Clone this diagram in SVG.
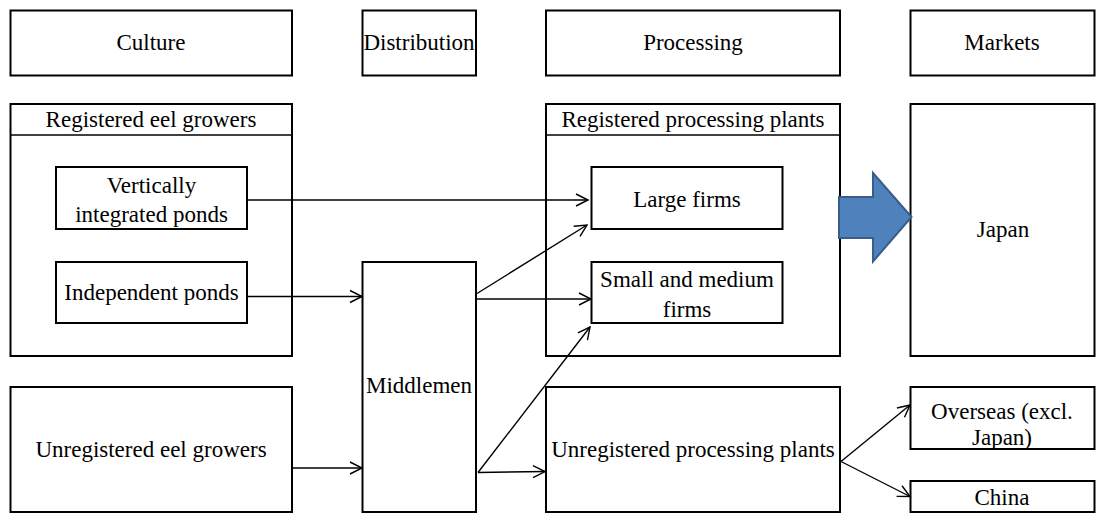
<svg xmlns="http://www.w3.org/2000/svg" width="1096" height="514" viewBox="0 0 1096 514">
<style>
.box{fill:#fff;stroke:#000;stroke-width:2}
.t{font-family:'Liberation Serif','Tinos','Times New Roman','DejaVu Serif','Noto Serif',serif;font-size:23px;fill:#000;text-anchor:middle}
.c{fill:none;stroke:#000;stroke-width:1.4}
</style>
<defs>
<marker id="ah" markerUnits="userSpaceOnUse" markerWidth="16" markerHeight="16" refX="13" refY="7" orient="auto" viewBox="0 0 16 14">
<path d="M1,1 L13,7 L1,13" fill="none" stroke="#000" stroke-width="1.4"/>
</marker>
</defs>
<rect width="1096" height="514" fill="#fff"/>
<g id="culture"><rect class="box" x="10.5" y="10.5" width="281.5" height="65"/><text class="t" x="151" y="50">Culture</text></g>
<g id="distribution"><rect class="box" x="362.5" y="10.5" width="113.5" height="65"/><text class="t" x="419" y="50">Distribution</text></g>
<g id="processing"><rect class="box" x="546" y="10.5" width="294" height="65"/><text class="t" x="693" y="50">Processing</text></g>
<g id="markets"><rect class="box" x="910.5" y="10.5" width="184" height="65"/><text class="t" x="1002" y="50">Markets</text></g>

<g id="registered-growers"><rect class="box" x="10.5" y="104" width="281.5" height="252"/><line x1="10.5" y1="135" x2="292" y2="135" stroke="#000" stroke-width="1.5"/><text class="t" x="151" y="127">Registered eel growers</text></g>
<g id="vertical-ponds"><rect class="box" x="56" y="167" width="191" height="62"/><text class="t" x="151.5" y="193">Vertically</text><text class="t" x="151.5" y="222">integrated ponds</text></g>
<g id="independent-ponds"><rect class="box" x="56" y="262" width="191" height="61"/><text class="t" x="151.5" y="300">Independent ponds</text></g>

<g id="registered-plants"><rect class="box" x="546" y="104" width="294" height="252"/><line x1="546" y1="135" x2="840" y2="135" stroke="#000" stroke-width="1.5"/><text class="t" x="693" y="127">Registered processing plants</text></g>
<g id="large-firms"><rect class="box" x="591.5" y="167" width="191" height="62"/><text class="t" x="687" y="207">Large firms</text></g>
<g id="sme-firms"><rect class="box" x="591.5" y="262" width="191" height="61"/><text class="t" x="687" y="287">Small and medium</text><text class="t" x="687" y="317">firms</text></g>

<g id="japan"><rect class="box" x="910.5" y="104" width="184" height="252"/><text class="t" x="1003" y="237">Japan</text></g>

<g id="middlemen"><rect class="box" x="362.5" y="262" width="113.5" height="250"/><text class="t" x="419" y="393">Middlemen</text></g>
<g id="unregistered-growers"><rect class="box" x="10.5" y="387" width="281.5" height="125"/><text class="t" x="151" y="457">Unregistered eel growers</text></g>
<g id="unregistered-plants"><rect class="box" x="546" y="387" width="294" height="125"/><text class="t" x="693" y="457">Unregistered processing plants</text></g>
<g id="overseas"><rect class="box" x="910.5" y="387" width="184" height="62"/><text class="t" x="1002" y="419">Overseas (excl.</text><text class="t" x="1002" y="445">Japan)</text></g>
<g id="china"><rect class="box" x="910.5" y="481" width="184" height="31"/><text class="t" x="1002" y="505">China</text></g>

<g id="connectors">
<line class="c" x1="247" y1="200" x2="588" y2="200" marker-end="url(#ah)"/>
<line class="c" x1="247" y1="296.5" x2="362" y2="296.5" marker-end="url(#ah)"/>
<line class="c" x1="292" y1="468" x2="362" y2="468" marker-end="url(#ah)"/>
<line class="c" x1="477" y1="293.5" x2="587" y2="225" marker-end="url(#ah)"/>
<line class="c" x1="477" y1="299" x2="591" y2="299" marker-end="url(#ah)"/>
<line class="c" x1="478" y1="472.5" x2="590" y2="327" marker-end="url(#ah)"/>
<line class="c" x1="478" y1="472.5" x2="545" y2="471.5" marker-end="url(#ah)"/>
<line class="c" x1="841" y1="461.5" x2="910" y2="405" marker-end="url(#ah)"/>
<line class="c" x1="841" y1="461.5" x2="910" y2="496.5" marker-end="url(#ah)"/>
<path id="big-arrow" d="M839,197 L873,197 L873,173 L911.5,217 L873,261.5 L873,238 L839,238 Z" fill="#4F81BD" stroke="#385D8A" stroke-width="2"/>
</g>
</svg>
